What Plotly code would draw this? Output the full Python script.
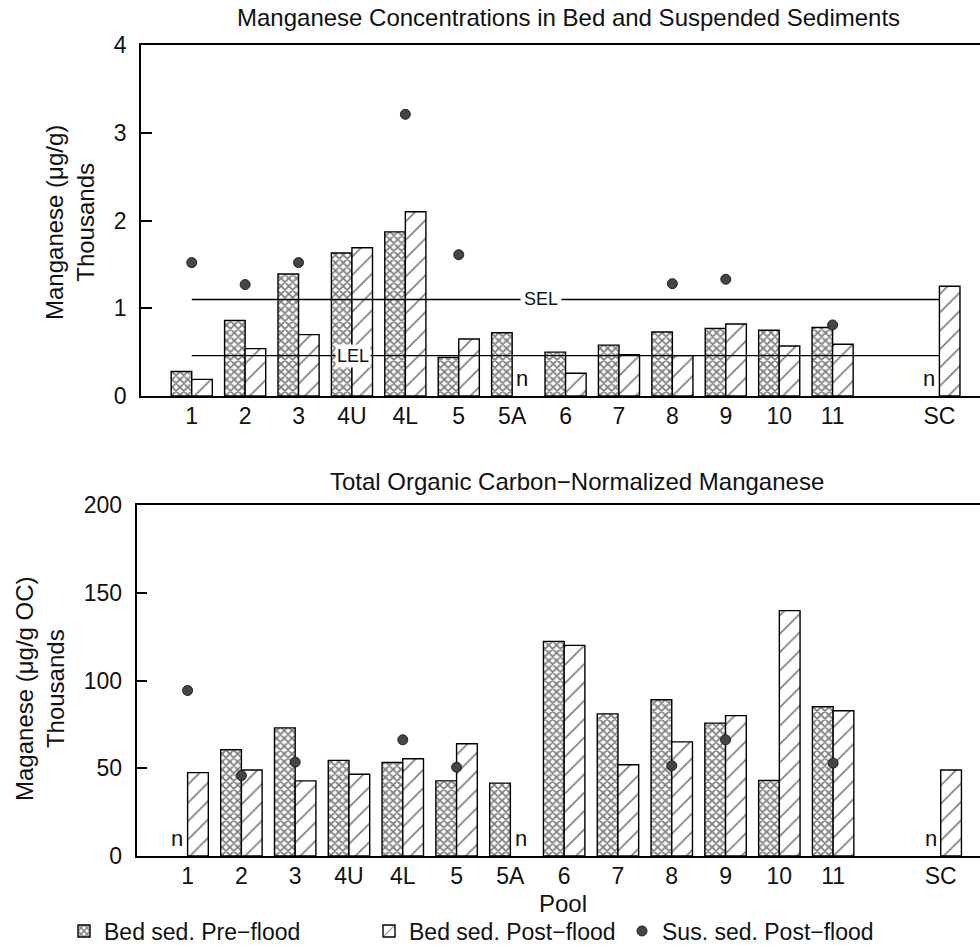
import plotly.graph_objects as go

# Pools along the river; SC is set apart after an empty slot
pools = ["1", "2", "3", "4U", "4L", "5", "5A", "6", "7", "8", "9", "10", "11", "SC"]
pool_pos = [0, 1, 2, 3, 4, 5, 6, 7, 8, 9, 10, 11, 12, 14]

# Manganese, thousands of ug/g (None = no sample)
mn_pre = [0.28, 0.86, 1.39, 1.63, 1.87, 0.44, 0.72, 0.50, 0.58, 0.73, 0.77, 0.75, 0.78, None]
mn_post = [0.19, 0.54, 0.70, 1.69, 2.10, 0.65, None, 0.26, 0.47, 0.46, 0.82, 0.57, 0.59, 1.25]
mn_sus = [1.52, 1.27, 1.52, None, 3.21, 1.61, None, None, None, 1.28, 1.33, None, 0.81, None]

# Sediment quality guidelines, thousands of ug/g
sel_value = 1.10
lel_value = 0.46

# TOC-normalized manganese, thousands of ug/g OC
toc_pre = [None, 60.5, 73.0, 54.5, 53.3, 42.8, 41.5, 122.3, 81.0, 89.0, 75.7, 43.0, 85.0, None]
toc_post = [47.5, 49.0, 42.8, 46.6, 55.4, 64.0, None, 120.0, 52.0, 65.0, 80.0, 139.8, 82.8, 49.0]
toc_sus = [94.3, 45.8, 53.5, None, 66.2, 50.6, None, None, None, 51.4, 66.2, None, 52.9, None]

W, H = 980, 949
FONT = "Liberation Sans, Arial, Helvetica, sans-serif"
INK = "#111111"


def fx(p):
    return p / W


def fy(p):
    return 1 - p / H


pre_style = dict(color="white", line=dict(color="black", width=1.4),
                 pattern=dict(shape="x", size=5.5, solidity=0.56,
                              fgcolor="black", bgcolor="white"))
post_style = dict(color="white", line=dict(color="black", width=1.4),
                  pattern=dict(shape="/", size=13, solidity=0.13,
                               fgcolor="black", bgcolor="white"))
dot_style = dict(size=10, color="#454545", line=dict(color="#222222", width=1))

fig = go.Figure()

panels = [
    ("x", "y", mn_pre, mn_post, mn_sus, True),
    ("x2", "y2", toc_pre, toc_post, toc_sus, False),
]
for xa, ya, pre, post, sus, show in panels:
    fig.add_trace(go.Bar(x=pool_pos, y=pre, xaxis=xa, yaxis=ya, marker=pre_style,
                         name="Bed sed. Pre\u2212flood", legendgroup="pre",
                         showlegend=show, legendwidth=260))
    fig.add_trace(go.Bar(x=pool_pos, y=post, xaxis=xa, yaxis=ya, marker=post_style,
                         name="Bed sed. Post\u2212flood", legendgroup="post",
                         showlegend=show, legendwidth=208))
    fig.add_trace(go.Scatter(x=pool_pos, y=sus, xaxis=xa, yaxis=ya, mode="markers",
                             marker=dot_style, name="Sus. sed. Post\u2212flood",
                             legendgroup="sus", showlegend=show))

# Guideline lines spanning the first pool to SC
for val in (sel_value, lel_value):
    fig.add_trace(go.Scatter(x=[pool_pos[0], pool_pos[-1]], y=[val, val], mode="lines",
                             line=dict(color="black", width=1.3), showlegend=False,
                             hoverinfo="skip", xaxis="x", yaxis="y"))

annotations = []
annotations.append(dict(x=6.54, y=sel_value, xref="x", yref="y", text="SEL",
                        showarrow=False, bgcolor="white", borderpad=3,
                        xanchor="center", yanchor="middle",
                        font=dict(size=18, family=FONT, color=INK)))
annotations.append(dict(x=3.02, y=lel_value, xref="x", yref="y", text="LEL",
                        showarrow=False, bgcolor="white", borderpad=1,
                        xanchor="center", yanchor="middle",
                        font=dict(size=18, family=FONT, color=INK)))

# "n" marks where a sample was not collected
for xa, ya, pre, post in (("x", "y", mn_pre, mn_post), ("x2", "y2", toc_pre, toc_post)):
    for p, a, b in zip(pool_pos, pre, post):
        if a is None and b is not None:
            annotations.append(dict(x=p - 0.19, y=0, xref=xa, yref=ya, text="n",
                                    showarrow=False, xanchor="center", yanchor="bottom",
                                    yshift=3, font=dict(size=22, family=FONT, color=INK)))
        if b is None and a is not None:
            annotations.append(dict(x=p + 0.19, y=0, xref=xa, yref=ya, text="n",
                                    showarrow=False, xanchor="center", yanchor="bottom",
                                    yshift=3, font=dict(size=22, family=FONT, color=INK)))


def paper_text(x, y, text, size=24, angle=0):
    return dict(x=fx(x), y=fy(y), xref="paper", yref="paper", showarrow=False,
                xanchor="center", yanchor="middle", text=text, textangle=angle,
                font=dict(size=size, family=FONT, color=INK))


annotations += [
    paper_text(568, 18, "Manganese Concentrations in Bed and Suspended Sediments"),
    paper_text(577, 481, "Total Organic Carbon\u2212Normalized Manganese"),
    paper_text(70, 223, "Manganese (\u03bcg/g)<br>Thousands", angle=-90),
    paper_text(40, 689, "Maganese (\u03bcg/g OC)<br>Thousands", angle=-90),
    paper_text(563, 903, "Pool"),
]

xcommon = dict(tickvals=pool_pos, ticktext=pools, ticks="", showgrid=False, zeroline=False,
               showline=True, linecolor="black", linewidth=1.8, mirror=True,
               automargin=False, tickfont=dict(size=23, family=FONT, color=INK),
               ticklabelstandoff=-2, fixedrange=True)
ycommon = dict(ticks="inside", ticklen=11, tickwidth=1.5, tickcolor="black",
               showgrid=False, zeroline=False, showline=True, linecolor="black",
               linewidth=1.8, ticklabelstandoff=8, automargin=False,
               tickfont=dict(size=23, family=FONT, color=INK), fixedrange=True)

fig.update_layout(
    width=W, height=H,
    margin=dict(l=0, r=0, t=0, b=0, autoexpand=False),
    paper_bgcolor="white", plot_bgcolor="white",
    barmode="group", bargap=0.23, bargroupgap=0,
    font=dict(family=FONT, color=INK, size=23),
    xaxis=dict(domain=[fx(141), 1], range=[-0.95, 14.76], anchor="y", **xcommon),
    yaxis=dict(domain=[fy(396), fy(45)], range=[0, 4], tickvals=[0, 1, 2, 3, 4],
               anchor="x", **ycommon),
    xaxis2=dict(domain=[fx(136.5), 1], range=[-0.95, 14.73], anchor="y2", **xcommon),
    yaxis2=dict(domain=[fy(856), fy(505)], range=[0, 200], tickvals=[0, 50, 100, 150, 200],
                anchor="x2", **ycommon),
    legend=dict(orientation="h", x=fx(64), xanchor="left", y=fy(931), yanchor="middle",
                font=dict(size=23, family=FONT, color=INK), bgcolor="rgba(0,0,0,0)",
                itemwidth=30, tracegroupgap=0),
    annotations=annotations,
    showlegend=True,
)

fig.write_html("out.html")
